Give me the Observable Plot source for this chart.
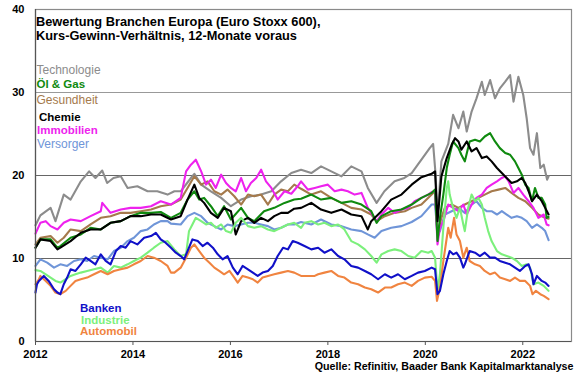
<!DOCTYPE html>
<html>
<head>
<meta charset="utf-8">
<script src="https://cdn.jsdelivr.net/npm/d3@7"></script>
<script src="https://cdn.jsdelivr.net/npm/@observablehq/plot@0.6"></script>
<style>
  html, body { margin: 0; padding: 0; background: #fff; }
  #chart svg { display: block; }
</style>
</head>
<body>
<div id="chart"></div>
<script>
// ---- Data (decimal year, KGV) ----
const technologie = [[2012.00,14.0],[2012.10,15.2],[2012.31,16.1],[2012.41,14.5],[2012.58,17.7],[2012.72,17.1],[2012.93,19.3],[2013.10,20.5],[2013.23,19.7],[2013.37,20.6],[2013.47,19.1],[2013.60,19.7],[2013.75,19.9],[2013.89,18.5],[2014.09,18.7],[2014.30,18.1],[2014.50,18.1],[2014.71,17.7],[2014.85,18.1],[2014.98,18.1],[2015.19,19.7],[2015.26,20.2],[2015.40,18.9],[2015.60,18.1],[2015.81,17.3],[2016.01,16.3],[2016.22,17.1],[2016.42,17.5],[2016.63,17.7],[2016.84,18.1],[2017.04,19.3],[2017.25,20.3],[2017.45,20.7],[2017.66,20.3],[2017.86,21.1],[2018.07,20.5],[2018.28,19.9],[2018.48,21.1],[2018.69,20.5],[2018.82,18.5],[2019.00,16.7],[2019.16,18.1],[2019.37,19.3],[2019.57,19.7],[2019.72,20.3],[2019.92,21.9],[2020.09,23.3],[2020.16,23.8],[2020.21,20.2],[2020.25,14.9],[2020.33,21.7],[2020.47,23.8],[2020.57,27.3],[2020.68,25.7],[2020.78,27.7],[2020.85,25.3],[2020.95,27.7],[2021.05,29.3],[2021.16,31.3],[2021.22,29.7],[2021.33,31.5],[2021.43,29.3],[2021.53,30.5],[2021.64,31.3],[2021.74,32.1],[2021.81,28.9],[2021.91,31.9],[2022.01,29.7],[2022.08,26.9],[2022.15,23.3],[2022.22,22.5],[2022.29,25.1],[2022.36,20.9],[2022.43,21.3],[2022.50,19.5],[2022.53,19.9]];

const oelGas = [[2012.00,11.3],[2012.10,12.3],[2012.31,12.3],[2012.45,11.3],[2012.51,11.5],[2012.72,12.5],[2012.93,12.9],[2013.13,13.7],[2013.34,13.5],[2013.54,14.3],[2013.75,14.5],[2013.95,15.1],[2014.16,15.5],[2014.37,15.5],[2014.57,15.6],[2014.78,14.9],[2014.98,15.5],[2015.12,17.1],[2015.26,18.1],[2015.36,17.1],[2015.46,17.3],[2015.60,16.3],[2015.74,15.1],[2015.87,16.3],[2016.01,14.7],[2016.22,16.1],[2016.36,14.9],[2016.49,14.5],[2016.69,15.7],[2016.90,16.1],[2017.11,16.7],[2017.31,17.1],[2017.45,17.2],[2017.66,17.7],[2017.86,17.1],[2018.07,17.3],[2018.28,16.7],[2018.48,16.9],[2018.69,16.5],[2018.89,15.7],[2019.00,14.3],[2019.10,15.1],[2019.30,15.7],[2019.51,15.9],[2019.72,16.5],[2019.92,17.3],[2020.13,17.9],[2020.20,18.3],[2020.25,12.1],[2020.30,14.9],[2020.37,17.7],[2020.44,20.9],[2020.50,22.5],[2020.57,24.1],[2020.68,23.3],[2020.74,22.5],[2020.81,21.7],[2020.91,24.1],[2021.02,24.3],[2021.12,24.1],[2021.22,24.7],[2021.33,25.1],[2021.43,24.1],[2021.53,23.3],[2021.64,22.7],[2021.74,22.5],[2021.84,21.7],[2021.91,20.9],[2021.98,20.1],[2022.05,18.9],[2022.12,18.5],[2022.19,16.9],[2022.25,18.5],[2022.32,17.3],[2022.39,17.3],[2022.46,16.5],[2022.49,14.9],[2022.53,15.0]];

const gesundheit = [[2012.00,11.7],[2012.10,12.5],[2012.31,12.7],[2012.45,11.9],[2012.58,12.5],[2012.72,13.5],[2012.93,13.3],[2013.13,14.1],[2013.34,14.9],[2013.54,15.1],[2013.75,15.5],[2013.95,15.5],[2014.16,15.7],[2014.37,15.9],[2014.57,16.3],[2014.78,16.5],[2014.98,17.1],[2015.12,18.5],[2015.26,19.9],[2015.40,18.9],[2015.53,19.3],[2015.67,18.1],[2015.81,17.7],[2015.94,18.3],[2016.08,17.5],[2016.22,16.5],[2016.36,17.7],[2016.49,17.5],[2016.63,17.7],[2016.77,16.5],[2016.90,17.7],[2017.04,18.3],[2017.18,18.1],[2017.31,18.9],[2017.45,18.4],[2017.66,17.7],[2017.86,18.1],[2018.07,17.3],[2018.28,16.7],[2018.48,16.1],[2018.69,15.9],[2018.89,15.3],[2019.00,14.5],[2019.17,15.1],[2019.37,15.5],[2019.58,15.7],[2019.72,16.1],[2019.92,16.5],[2020.13,17.7],[2020.20,18.1],[2020.25,12.9],[2020.33,14.9],[2020.40,16.1],[2020.54,16.5],[2020.68,16.1],[2020.81,16.5],[2020.95,16.9],[2021.09,17.3],[2021.22,17.7],[2021.36,18.1],[2021.50,18.3],[2021.64,18.5],[2021.77,17.9],[2021.91,17.3],[2022.05,16.9],[2022.19,16.1],[2022.32,15.3],[2022.46,14.9],[2022.53,14.8]];

const chemie = [[2012.00,11.3],[2012.10,12.3],[2012.31,12.1],[2012.45,11.1],[2012.51,11.3],[2012.72,12.1],[2012.93,13.1],[2013.13,13.5],[2013.34,13.5],[2013.54,14.3],[2013.75,14.5],[2013.95,15.1],[2014.16,15.1],[2014.37,15.3],[2014.57,15.3],[2014.78,14.7],[2014.98,15.1],[2015.12,17.1],[2015.26,18.9],[2015.36,17.3],[2015.46,16.7],[2015.60,15.5],[2015.74,14.9],[2015.87,16.1],[2016.01,15.7],[2016.11,12.9],[2016.22,14.5],[2016.36,14.9],[2016.49,14.3],[2016.63,14.9],[2016.77,14.5],[2016.90,15.1],[2017.04,15.5],[2017.18,15.5],[2017.31,16.0],[2017.45,16.1],[2017.66,16.7],[2017.86,15.9],[2018.07,15.5],[2018.28,15.9],[2018.48,15.3],[2018.69,15.1],[2018.82,13.5],[2018.89,14.5],[2019.10,15.7],[2019.30,17.1],[2019.51,17.7],[2019.72,18.9],[2019.92,19.8],[2020.13,20.2],[2020.20,20.5],[2020.25,14.5],[2020.33,19.9],[2020.44,22.1],[2020.54,23.7],[2020.61,24.5],[2020.68,24.1],[2020.74,23.1],[2020.85,24.1],[2020.95,22.9],[2021.05,23.3],[2021.16,22.1],[2021.26,22.3],[2021.36,21.7],[2021.47,20.9],[2021.57,20.3],[2021.67,19.7],[2021.77,19.1],[2021.88,19.3],[2021.98,19.7],[2022.05,19.1],[2022.12,18.1],[2022.19,16.9],[2022.29,17.7],[2022.39,16.9],[2022.46,16.1],[2022.53,15.3]];

const immobilien = [[2012.00,13.0],[2012.10,14.3],[2012.21,14.5],[2012.31,13.9],[2012.45,13.5],[2012.58,14.3],[2012.72,14.7],[2012.93,14.5],[2013.13,15.1],[2013.34,15.7],[2013.37,16.7],[2013.54,15.5],[2013.75,15.9],[2013.95,16.1],[2014.16,16.1],[2014.37,16.3],[2014.57,16.9],[2014.78,16.5],[2014.98,17.3],[2015.09,20.5],[2015.19,21.3],[2015.29,21.9],[2015.40,20.5],[2015.50,18.9],[2015.60,19.5],[2015.70,18.5],[2015.81,20.1],[2015.91,19.1],[2016.01,18.5],[2016.11,18.1],[2016.22,19.7],[2016.32,18.1],[2016.42,19.1],[2016.53,19.7],[2016.63,20.7],[2016.73,19.3],[2016.84,18.5],[2016.97,17.1],[2017.11,18.1],[2017.25,17.8],[2017.38,18.7],[2017.45,19.3],[2017.59,18.3],[2017.73,18.5],[2017.86,18.7],[2018.00,18.9],[2018.14,18.1],[2018.28,18.3],[2018.41,18.1],[2018.55,17.7],[2018.69,17.9],[2018.82,16.1],[2019.00,14.5],[2019.10,15.3],[2019.24,16.1],[2019.37,15.5],[2019.51,15.9],[2019.65,16.1],[2019.78,16.9],[2019.92,17.3],[2020.06,17.7],[2020.13,18.0],[2020.20,18.1],[2020.25,11.7],[2020.30,13.7],[2020.37,14.5],[2020.47,16.5],[2020.57,16.1],[2020.68,15.7],[2020.78,16.5],[2020.85,15.3],[2020.95,16.5],[2021.05,17.3],[2021.16,17.7],[2021.26,18.5],[2021.36,18.9],[2021.47,19.3],[2021.57,19.7],[2021.64,19.9],[2021.71,19.3],[2021.81,17.9],[2021.91,18.5],[2022.01,17.7],[2022.12,16.9],[2022.22,16.1],[2022.32,14.9],[2022.43,15.3],[2022.49,14.1],[2022.53,14.0]];

const versorger = [[2012.00,9.1],[2012.10,9.9],[2012.24,9.5],[2012.38,8.9],[2012.51,9.3],[2012.65,9.1],[2012.79,9.7],[2012.93,9.9],[2013.06,9.7],[2013.20,10.3],[2013.34,10.1],[2013.48,9.9],[2013.61,10.9],[2013.75,11.3],[2013.89,12.1],[2014.02,12.5],[2014.16,13.3],[2014.30,13.5],[2014.43,14.1],[2014.57,14.5],[2014.71,14.5],[2014.78,14.2],[2014.98,14.1],[2015.12,15.1],[2015.26,15.5],[2015.40,15.1],[2015.53,14.3],[2015.67,13.9],[2015.81,13.5],[2015.94,14.1],[2016.08,13.9],[2016.22,14.1],[2016.36,14.3],[2016.49,14.3],[2016.63,14.1],[2016.77,13.9],[2016.90,13.5],[2017.04,13.7],[2017.18,14.1],[2017.31,14.1],[2017.45,14.4],[2017.66,14.1],[2017.86,14.7],[2018.07,14.1],[2018.28,13.9],[2018.48,13.5],[2018.69,13.3],[2018.82,12.9],[2018.96,12.5],[2019.10,13.3],[2019.30,13.7],[2019.51,13.9],[2019.72,14.4],[2019.92,15.1],[2020.13,16.5],[2020.20,16.5],[2020.25,12.9],[2020.30,13.3],[2020.40,15.3],[2020.54,15.7],[2020.68,16.1],[2020.81,15.5],[2020.95,16.5],[2021.05,16.9],[2021.16,16.1],[2021.26,15.7],[2021.36,15.7],[2021.47,15.3],[2021.57,15.7],[2021.67,15.3],[2021.77,14.9],[2021.88,15.1],[2021.98,14.9],[2022.08,14.5],[2022.19,13.7],[2022.29,14.1],[2022.39,13.7],[2022.46,13.3],[2022.53,12.2]];

const banken = [[2012.00,5.9],[2012.03,6.9],[2012.07,7.3],[2012.17,7.9],[2012.27,7.3],[2012.38,6.3],[2012.45,5.9],[2012.51,5.7],[2012.58,6.9],[2012.65,7.7],[2012.72,8.7],[2012.82,8.5],[2012.93,9.3],[2013.03,10.1],[2013.13,9.7],[2013.23,9.3],[2013.34,10.5],[2013.44,9.7],[2013.54,9.3],[2013.65,10.9],[2013.75,11.5],[2013.85,11.3],[2013.95,12.1],[2014.09,11.7],[2014.23,12.5],[2014.37,12.7],[2014.47,13.1],[2014.57,12.3],[2014.67,11.9],[2014.78,11.3],[2014.88,10.7],[2014.98,10.3],[2015.05,9.9],[2015.12,10.9],[2015.22,12.3],[2015.33,12.1],[2015.43,11.5],[2015.53,11.9],[2015.64,11.3],[2015.74,10.5],[2015.84,9.9],[2015.94,10.3],[2016.05,8.9],[2016.15,8.1],[2016.25,9.1],[2016.36,8.7],[2016.46,8.3],[2016.56,7.9],[2016.66,8.3],[2016.77,8.5],[2016.87,9.1],[2016.97,10.3],[2017.08,11.3],[2017.18,11.1],[2017.28,12.1],[2017.38,11.9],[2017.52,11.5],[2017.66,11.1],[2017.80,11.3],[2017.93,10.7],[2018.07,11.1],[2018.21,10.3],[2018.34,9.9],[2018.48,9.1],[2018.62,8.9],[2018.76,8.5],[2018.89,8.1],[2019.03,7.5],[2019.17,8.1],[2019.30,7.7],[2019.44,8.1],[2019.58,7.5],[2019.72,7.9],[2019.85,8.3],[2019.99,8.5],[2020.13,8.9],[2020.20,8.7],[2020.25,5.7],[2020.30,6.1],[2020.37,8.1],[2020.44,9.7],[2020.50,10.9],[2020.57,10.5],[2020.64,10.7],[2020.71,10.1],[2020.78,8.9],[2020.81,9.3],[2020.91,10.9],[2021.02,10.7],[2021.12,10.3],[2021.22,10.7],[2021.33,10.1],[2021.43,10.1],[2021.53,9.7],[2021.64,9.5],[2021.74,9.3],[2021.84,8.9],[2021.94,8.5],[2022.05,9.1],[2022.12,9.3],[2022.19,8.1],[2022.22,6.9],[2022.29,7.9],[2022.39,7.3],[2022.46,7.1],[2022.53,6.7]];

const industrie = [[2012.00,8.6],[2012.10,8.5],[2012.21,8.1],[2012.31,7.7],[2012.41,7.3],[2012.51,7.1],[2012.62,7.5],[2012.72,7.9],[2012.82,8.1],[2012.93,8.3],[2013.06,8.5],[2013.20,8.7],[2013.34,8.9],[2013.48,8.3],[2013.61,9.1],[2013.75,8.9],[2013.89,9.3],[2014.02,9.7],[2014.16,10.1],[2014.30,10.7],[2014.43,11.3],[2014.57,11.9],[2014.71,12.1],[2014.85,11.1],[2014.98,10.3],[2015.09,10.5],[2015.15,13.3],[2015.22,14.1],[2015.29,14.9],[2015.40,14.5],[2015.50,14.1],[2015.60,14.3],[2015.70,13.7],[2015.81,14.1],[2015.91,13.3],[2016.01,13.1],[2016.11,14.3],[2016.22,14.9],[2016.36,13.9],[2016.49,13.7],[2016.63,13.9],[2016.77,13.5],[2016.90,13.3],[2017.04,13.7],[2017.18,14.1],[2017.31,14.3],[2017.45,13.7],[2017.52,14.3],[2017.66,14.5],[2017.80,14.1],[2017.93,14.3],[2018.07,13.9],[2018.21,14.1],[2018.34,13.5],[2018.48,12.1],[2018.62,11.7],[2018.76,11.1],[2018.89,10.3],[2019.00,9.5],[2019.10,10.5],[2019.24,10.9],[2019.37,11.1],[2019.51,10.9],[2019.65,10.3],[2019.78,10.1],[2019.92,10.9],[2020.06,10.7],[2020.13,10.9],[2020.20,10.1],[2020.25,6.1],[2020.30,8.1],[2020.37,13.7],[2020.44,18.5],[2020.47,19.3],[2020.50,17.7],[2020.57,16.1],[2020.64,14.9],[2020.71,16.1],[2020.78,14.1],[2020.81,13.3],[2020.88,16.1],[2020.95,17.7],[2021.02,16.9],[2021.09,17.3],[2021.16,16.5],[2021.22,14.9],[2021.29,13.3],[2021.36,12.1],[2021.47,10.9],[2021.57,10.5],[2021.67,10.3],[2021.77,10.1],[2021.88,9.7],[2021.98,9.1],[2022.08,9.3],[2022.15,8.9],[2022.22,6.9],[2022.32,7.1],[2022.43,6.7],[2022.53,6.1]];

const automobil = [[2012.00,6.9],[2012.07,7.5],[2012.10,7.9],[2012.21,7.3],[2012.31,6.7],[2012.41,5.9],[2012.51,5.7],[2012.62,6.1],[2012.72,6.7],[2012.82,7.3],[2012.93,7.5],[2013.06,7.7],[2013.20,8.1],[2013.34,8.5],[2013.48,8.1],[2013.61,8.5],[2013.75,8.7],[2013.89,8.9],[2014.02,9.3],[2014.16,9.7],[2014.30,10.3],[2014.43,10.1],[2014.57,9.7],[2014.71,9.1],[2014.78,8.3],[2014.85,8.3],[2014.98,8.9],[2015.09,10.1],[2015.19,11.3],[2015.26,11.7],[2015.36,10.9],[2015.46,10.1],[2015.57,9.5],[2015.67,8.9],[2015.77,8.5],[2015.87,8.1],[2015.98,8.5],[2016.08,7.7],[2016.15,7.1],[2016.25,7.9],[2016.36,7.7],[2016.46,7.5],[2016.56,7.1],[2016.66,7.7],[2016.77,7.9],[2016.90,8.1],[2017.04,8.3],[2017.18,8.5],[2017.31,8.3],[2017.45,7.9],[2017.59,7.9],[2017.73,7.9],[2017.80,8.1],[2017.93,8.3],[2018.07,8.5],[2018.21,7.9],[2018.34,7.7],[2018.48,7.1],[2018.62,6.9],[2018.76,6.5],[2018.89,6.3],[2019.03,5.9],[2019.17,6.5],[2019.30,6.5],[2019.44,6.9],[2019.58,7.1],[2019.72,6.7],[2019.85,7.3],[2019.99,7.7],[2020.13,7.8],[2020.20,7.3],[2020.24,4.9],[2020.30,6.5],[2020.37,9.7],[2020.44,12.5],[2020.47,13.7],[2020.52,12.5],[2020.59,14.9],[2020.64,12.9],[2020.71,12.1],[2020.78,10.1],[2020.85,11.3],[2020.91,9.7],[2021.02,9.3],[2021.12,9.1],[2021.22,8.5],[2021.33,8.1],[2021.43,8.3],[2021.53,7.7],[2021.64,7.5],[2021.74,7.3],[2021.84,7.7],[2021.94,7.3],[2022.05,7.3],[2022.15,6.7],[2022.20,5.7],[2022.27,6.1],[2022.36,5.7],[2022.43,5.5],[2022.53,5.1]];

const xTicks = [2012, 2014, 2016, 2018, 2020, 2022];
const yTicks = [0, 10, 20, 30, 40];
const gridLevels = [10, 20, 30];

const titleLines = ["Bewertung Branchen Europa (Euro Stoxx 600),", "Kurs-Gewinn-Verhältnis, 12-Monate voraus"];
const source = "Quelle: Refinitiv, Baader Bank Kapitalmarktanalyse";

// draw order, names, colours
const seriesList = [
  {name: "Technologie", data: technologie},
  {name: "Versorger", data: versorger},
  {name: "Gesundheit", data: gesundheit},
  {name: "Immobilien", data: immobilien},
  {name: "Öl & Gas", data: oelGas},
  {name: "Chemie", data: chemie},
  {name: "Industrie", data: industrie},
  {name: "Automobil", data: automobil},
  {name: "Banken", data: banken}
];
const colors = {
  "Technologie": "#8c8c8c",
  "Öl & Gas": "#0f8a0f",
  "Gesundheit": "#a57a4c",
  "Chemie": "#000000",
  "Immobilien": "#ee22ee",
  "Versorger": "#6f95d8",
  "Banken": "#1010c8",
  "Industrie": "#7cf07c",
  "Automobil": "#f08440"
};

const FONT = "'Liberation Sans', Arial, sans-serif";

const marks = [
  Plot.ruleY([30], {stroke: "#999", strokeWidth: 1.2}),
  Plot.ruleY([10, 20], {stroke: "#666", strokeWidth: 1}),
  ...seriesList.map(s => Plot.line(s.data, {x: d => d[0], y: d => d[1], stroke: colors[s.name], strokeWidth: 2.1, strokeLinejoin: "round"})),
  Plot.frame({stroke: "#8a8a8a", strokeWidth: 1.2}),
  Plot.ruleX([2012], {stroke: "#555", strokeWidth: 1.2}),
  Plot.ruleY([0], {stroke: "#555", strokeWidth: 1.2}),
  Plot.axisX({ticks: xTicks, tickFormat: d => String(d), tickSize: 4, tickPadding: 5, fontWeight: "bold", fontSize: 11, label: null, stroke: "#555"}),
  Plot.axisY({ticks: yTicks, tickSize: 0, tickPadding: 11, fontWeight: "bold", fontSize: 11, label: null})
];

const chart = Plot.plot({
  width: 580,
  height: 375,
  marginLeft: 35,
  marginRight: 9,
  marginTop: 9,
  marginBottom: 34,
  x: {domain: [2012, 2023]},
  y: {domain: [0, 40]},
  style: {fontFamily: FONT, background: "#fff", color: "#000"},
  marks
});

document.getElementById("chart").appendChild(chart);

const svg = d3.select(chart);
const g = svg.append("g").style("font-family", FONT).attr("text-anchor", "start");

// title
titleLines.forEach((t, i) => {
  g.append("text").attr("x", 36).attr("y", 25.5 + i * 14).attr("text-anchor", "start")
    .attr("font-size", 12.8).attr("font-weight", "bold").attr("fill", "#000").text(t);
});

// legend labels
const legendPos = [
  {name: "Technologie", x: 36.5, y: 73.5, bold: false},
  {name: "Öl & Gas", x: 36.5, y: 87.5, bold: true},
  {name: "Gesundheit", x: 36.5, y: 104, bold: false},
  {name: "Chemie", x: 39, y: 120.5, bold: true},
  {name: "Immobilien", x: 37, y: 134.3, bold: true},
  {name: "Versorger", x: 37, y: 148.3, bold: false},
  {name: "Banken", x: 80, y: 311.7, bold: true},
  {name: "Industrie", x: 81, y: 324, bold: true},
  {name: "Automobil", x: 80, y: 335, bold: true}
];
legendPos.forEach(l => {
  g.append("text").attr("x", l.x).attr("y", l.y).attr("text-anchor", "start")
    .attr("font-size", l.bold ? 11.5 : 12)
    .attr("font-weight", l.bold ? "bold" : "normal")
    .attr("fill", colors[l.name]).text(l.name);
});

// source
g.append("text").attr("x", 573.5).attr("y", 370).attr("text-anchor", "end")
  .attr("font-size", 10.7).attr("font-weight", "bold").attr("fill", "#000").text(source);
</script>
</body>
</html>
